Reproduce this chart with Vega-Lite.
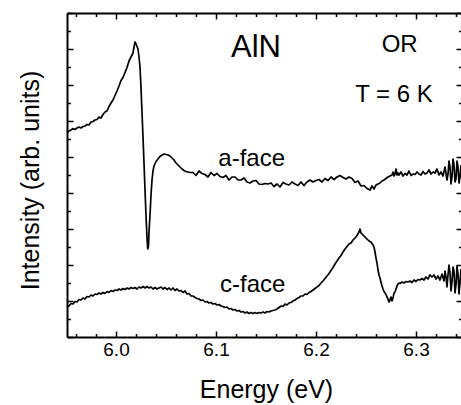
{
"$schema":"https://vega.github.io/schema/vega-lite/v6.json",
"width":395,"height":324,
"autosize":{"type":"none"},
"padding":{"left":67,"top":13,"right":0,"bottom":68},
"background":"white",
"config":{"view":{"stroke":null},"font":"Liberation Sans",
"axis":{"grid":false,"domainColor":"black","domainWidth":2,"tickColor":"black","tickWidth":1.5,"labelFont":"Liberation Sans","labelColor":"black","labelFontSize":19,"titleFont":"Liberation Sans","titleFontSize":25,"titleFontWeight":"normal","titleColor":"black"}},
"datasets":{
"aface":[{"E":5.951,"I":204.5},{"E":5.953,"I":206},{"E":5.955,"I":207},{"E":5.957,"I":208.5},{"E":5.959,"I":207.5},{"E":5.961,"I":209},{"E":5.963,"I":210},{"E":5.965,"I":209},{"E":5.967,"I":210.5},{"E":5.969,"I":211},{"E":5.971,"I":212.5},{"E":5.973,"I":212},{"E":5.975,"I":215},{"E":5.977,"I":215.5},{"E":5.979,"I":217},{"E":5.981,"I":217.5},{"E":5.983,"I":220},{"E":5.985,"I":219},{"E":5.987,"I":222.5},{"E":5.989,"I":225},{"E":5.991,"I":226},{"E":5.993,"I":230.5},{"E":5.995,"I":234},{"E":5.997,"I":237},{"E":5.999,"I":241.5},{"E":6.001,"I":246},{"E":6.003,"I":251},{"E":6.005,"I":256.5},{"E":6.007,"I":259.5},{"E":6.009,"I":264.5},{"E":6.011,"I":269.5},{"E":6.013,"I":276},{"E":6.015,"I":280},{"E":6.017,"I":284},{"E":6.018,"I":290},{"E":6.019,"I":295},{"E":6.020,"I":293},{"E":6.021,"I":290.5},{"E":6.022,"I":288},{"E":6.023,"I":280},{"E":6.024,"I":270},{"E":6.025,"I":249},{"E":6.026,"I":225},{"E":6.027,"I":200},{"E":6.028,"I":174},{"E":6.029,"I":147},{"E":6.030,"I":122},{"E":6.031,"I":99},{"E":6.0317,"I":88},{"E":6.0325,"I":91},{"E":6.033,"I":105},{"E":6.034,"I":122},{"E":6.035,"I":142},{"E":6.036,"I":157},{"E":6.037,"I":166},{"E":6.038,"I":171},{"E":6.040,"I":175.5},{"E":6.042,"I":178},{"E":6.044,"I":180.5},{"E":6.046,"I":182},{"E":6.048,"I":183},{"E":6.050,"I":182.5},{"E":6.052,"I":182},{"E":6.054,"I":181},{"E":6.056,"I":179},{"E":6.058,"I":177},{"E":6.060,"I":174},{"E":6.062,"I":172},{"E":6.064,"I":170},{"E":6.066,"I":168},{"E":6.068,"I":166.5},{"E":6.070,"I":165.5},{"E":6.072,"I":165},{"E":6.074,"I":164.5},{"E":6.077,"I":164.5},{"E":6.080,"I":161.5},{"E":6.083,"I":166},{"E":6.086,"I":163.5},{"E":6.089,"I":162.5},{"E":6.092,"I":160},{"E":6.095,"I":164.5},{"E":6.098,"I":161.5},{"E":6.101,"I":163.5},{"E":6.104,"I":160.5},{"E":6.107,"I":159.5},{"E":6.110,"I":161.5},{"E":6.113,"I":157},{"E":6.116,"I":160},{"E":6.119,"I":160},{"E":6.122,"I":157},{"E":6.125,"I":157},{"E":6.128,"I":159},{"E":6.131,"I":155},{"E":6.134,"I":154},{"E":6.137,"I":156},{"E":6.140,"I":156.5},{"E":6.143,"I":153},{"E":6.146,"I":152.5},{"E":6.149,"I":153.5},{"E":6.152,"I":153},{"E":6.155,"I":154},{"E":6.158,"I":150.5},{"E":6.161,"I":153},{"E":6.164,"I":150},{"E":6.167,"I":154.5},{"E":6.170,"I":153},{"E":6.173,"I":152},{"E":6.176,"I":155},{"E":6.179,"I":153},{"E":6.182,"I":151.5},{"E":6.185,"I":155},{"E":6.188,"I":151.5},{"E":6.191,"I":155},{"E":6.194,"I":157},{"E":6.197,"I":155},{"E":6.200,"I":156.5},{"E":6.203,"I":157.5},{"E":6.206,"I":155},{"E":6.209,"I":158.5},{"E":6.212,"I":156.5},{"E":6.215,"I":160},{"E":6.218,"I":157.5},{"E":6.221,"I":160},{"E":6.224,"I":161.5},{"E":6.227,"I":159.5},{"E":6.230,"I":158},{"E":6.233,"I":160},{"E":6.236,"I":158.5},{"E":6.239,"I":154.5},{"E":6.242,"I":156},{"E":6.245,"I":151},{"E":6.248,"I":151.5},{"E":6.251,"I":148.5},{"E":6.254,"I":147},{"E":6.256,"I":151},{"E":6.258,"I":148},{"E":6.260,"I":152},{"E":6.262,"I":153},{"E":6.264,"I":154},{"E":6.266,"I":156},{"E":6.268,"I":157},{"E":6.270,"I":158.5},{"E":6.272,"I":160},{"E":6.274,"I":161},{"E":6.276,"I":162},{"E":6.277,"I":165},{"E":6.278,"I":161},{"E":6.279,"I":163},{"E":6.280,"I":168},{"E":6.281,"I":162},{"E":6.282,"I":164},{"E":6.283,"I":162},{"E":6.285,"I":165},{"E":6.287,"I":161},{"E":6.289,"I":163.5},{"E":6.291,"I":162},{"E":6.293,"I":166},{"E":6.295,"I":161.5},{"E":6.297,"I":163},{"E":6.299,"I":162.5},{"E":6.301,"I":165},{"E":6.303,"I":163},{"E":6.305,"I":162},{"E":6.307,"I":165.5},{"E":6.309,"I":163},{"E":6.311,"I":164},{"E":6.313,"I":167},{"E":6.315,"I":163},{"E":6.317,"I":165},{"E":6.319,"I":164},{"E":6.321,"I":168},{"E":6.323,"I":162},{"E":6.325,"I":165},{"E":6.327,"I":161},{"E":6.329,"I":170},{"E":6.331,"I":157},{"E":6.332,"I":163},{"E":6.333,"I":176},{"E":6.334,"I":170},{"E":6.335,"I":153},{"E":6.336,"I":160},{"E":6.337,"I":178},{"E":6.338,"I":172},{"E":6.339,"I":155},{"E":6.340,"I":158},{"E":6.341,"I":176},{"E":6.342,"I":170},{"E":6.343,"I":154},{"E":6.344,"I":160},{"E":6.345,"I":172}],
"cface":[{"E":5.951,"I":30},{"E":5.953,"I":31},{"E":5.955,"I":33.5},{"E":5.957,"I":33},{"E":5.959,"I":35.5},{"E":5.961,"I":35},{"E":5.963,"I":37.5},{"E":5.965,"I":37},{"E":5.967,"I":39},{"E":5.969,"I":38},{"E":5.971,"I":40.5},{"E":5.973,"I":40},{"E":5.975,"I":42},{"E":5.977,"I":41},{"E":5.979,"I":43},{"E":5.981,"I":42.5},{"E":5.983,"I":44},{"E":5.985,"I":43},{"E":5.987,"I":44.5},{"E":5.989,"I":43.5},{"E":5.991,"I":45.5},{"E":5.993,"I":44.5},{"E":5.995,"I":46.5},{"E":5.997,"I":45.5},{"E":5.999,"I":47},{"E":6.001,"I":46.5},{"E":6.003,"I":48},{"E":6.005,"I":47},{"E":6.007,"I":48.5},{"E":6.009,"I":47.5},{"E":6.011,"I":49},{"E":6.013,"I":48},{"E":6.015,"I":49.5},{"E":6.017,"I":48.5},{"E":6.019,"I":49.5},{"E":6.021,"I":48},{"E":6.023,"I":50},{"E":6.025,"I":49},{"E":6.027,"I":50.5},{"E":6.029,"I":49},{"E":6.031,"I":50.5},{"E":6.033,"I":49},{"E":6.035,"I":50},{"E":6.037,"I":48},{"E":6.039,"I":49.5},{"E":6.041,"I":48},{"E":6.043,"I":49},{"E":6.045,"I":50},{"E":6.047,"I":48},{"E":6.049,"I":49.5},{"E":6.051,"I":47.5},{"E":6.053,"I":49},{"E":6.055,"I":47},{"E":6.057,"I":49},{"E":6.059,"I":46.5},{"E":6.061,"I":48},{"E":6.063,"I":46},{"E":6.065,"I":46.5},{"E":6.067,"I":44.5},{"E":6.069,"I":46},{"E":6.071,"I":43},{"E":6.073,"I":43.5},{"E":6.075,"I":41},{"E":6.077,"I":41},{"E":6.079,"I":39.5},{"E":6.081,"I":38.5},{"E":6.083,"I":38},{"E":6.085,"I":36.5},{"E":6.087,"I":37},{"E":6.089,"I":35},{"E":6.091,"I":35.5},{"E":6.093,"I":34},{"E":6.095,"I":34.5},{"E":6.097,"I":33},{"E":6.099,"I":33.5},{"E":6.101,"I":32},{"E":6.103,"I":32.5},{"E":6.105,"I":31},{"E":6.107,"I":30.5},{"E":6.109,"I":29.5},{"E":6.111,"I":30},{"E":6.113,"I":28},{"E":6.115,"I":28.5},{"E":6.117,"I":27},{"E":6.119,"I":27.5},{"E":6.121,"I":26},{"E":6.123,"I":26.5},{"E":6.125,"I":25},{"E":6.127,"I":25.5},{"E":6.129,"I":24},{"E":6.131,"I":25},{"E":6.133,"I":23.5},{"E":6.135,"I":24.5},{"E":6.137,"I":23.5},{"E":6.139,"I":24.5},{"E":6.141,"I":23.5},{"E":6.143,"I":24.5},{"E":6.145,"I":24},{"E":6.147,"I":25},{"E":6.149,"I":24},{"E":6.151,"I":25.5},{"E":6.153,"I":25},{"E":6.155,"I":26},{"E":6.157,"I":26.5},{"E":6.159,"I":27},{"E":6.161,"I":28},{"E":6.163,"I":29.5},{"E":6.165,"I":31},{"E":6.167,"I":30.5},{"E":6.169,"I":33},{"E":6.171,"I":32},{"E":6.173,"I":34},{"E":6.175,"I":34.5},{"E":6.177,"I":36},{"E":6.179,"I":37},{"E":6.181,"I":38.5},{"E":6.183,"I":39.5},{"E":6.185,"I":41},{"E":6.187,"I":41},{"E":6.189,"I":43},{"E":6.191,"I":42.5},{"E":6.193,"I":44.5},{"E":6.195,"I":45.5},{"E":6.197,"I":47},{"E":6.199,"I":48.5},{"E":6.201,"I":50},{"E":6.203,"I":51.5},{"E":6.205,"I":54},{"E":6.207,"I":56},{"E":6.209,"I":58.5},{"E":6.211,"I":61},{"E":6.213,"I":63.5},{"E":6.215,"I":66.5},{"E":6.217,"I":69.5},{"E":6.219,"I":73},{"E":6.221,"I":76},{"E":6.223,"I":79},{"E":6.225,"I":81.5},{"E":6.227,"I":85},{"E":6.229,"I":88},{"E":6.231,"I":90.5},{"E":6.233,"I":93},{"E":6.235,"I":94},{"E":6.237,"I":97},{"E":6.239,"I":99},{"E":6.241,"I":101.5},{"E":6.243,"I":105},{"E":6.244,"I":108},{"E":6.245,"I":104},{"E":6.247,"I":102},{"E":6.249,"I":100},{"E":6.251,"I":98},{"E":6.253,"I":96},{"E":6.255,"I":95},{"E":6.257,"I":92},{"E":6.258,"I":90},{"E":6.259,"I":85},{"E":6.260,"I":79},{"E":6.261,"I":74},{"E":6.262,"I":67},{"E":6.263,"I":62},{"E":6.264,"I":59},{"E":6.265,"I":55},{"E":6.266,"I":51},{"E":6.267,"I":48},{"E":6.268,"I":45.5},{"E":6.269,"I":44},{"E":6.270,"I":42.5},{"E":6.271,"I":40},{"E":6.272,"I":38},{"E":6.273,"I":35},{"E":6.274,"I":37},{"E":6.275,"I":40},{"E":6.276,"I":36},{"E":6.277,"I":39},{"E":6.278,"I":44},{"E":6.279,"I":45},{"E":6.280,"I":48},{"E":6.281,"I":51},{"E":6.282,"I":53},{"E":6.283,"I":54},{"E":6.284,"I":53.5},{"E":6.286,"I":55},{"E":6.288,"I":54},{"E":6.290,"I":55.5},{"E":6.292,"I":55},{"E":6.294,"I":56},{"E":6.296,"I":54.5},{"E":6.298,"I":57},{"E":6.300,"I":55.5},{"E":6.302,"I":57.5},{"E":6.304,"I":57},{"E":6.306,"I":58.5},{"E":6.308,"I":57},{"E":6.310,"I":60},{"E":6.312,"I":58},{"E":6.314,"I":62},{"E":6.316,"I":60},{"E":6.318,"I":62},{"E":6.320,"I":58},{"E":6.322,"I":61},{"E":6.324,"I":57},{"E":6.326,"I":63},{"E":6.328,"I":56},{"E":6.329,"I":66},{"E":6.330,"I":60},{"E":6.331,"I":50},{"E":6.332,"I":62},{"E":6.333,"I":72},{"E":6.334,"I":64},{"E":6.335,"I":46},{"E":6.336,"I":55},{"E":6.337,"I":70},{"E":6.338,"I":66},{"E":6.339,"I":44},{"E":6.340,"I":52},{"E":6.341,"I":71},{"E":6.342,"I":63},{"E":6.343,"I":43},{"E":6.344,"I":55},{"E":6.345,"I":68}],
"notes":[{"label":"AlN","E":6.14,"I":280.3,"kind":"big"},{"label":"OR","E":6.2837,"I":285.3,"kind":"small"},{"label":"T = 6 K","E":6.278,"I":235.3,"kind":"small"},{"label":"a-face","E":6.1357,"I":171.3,"kind":"small"},{"label":"c-face","E":6.1367,"I":45.3,"kind":"small"}]
},
"layer":[
{"data":{"name":"aface"},
 "mark":{"type":"line","color":"black","strokeWidth":1.7,"strokeJoin":"round"},
 "encoding":{
  "x":{"field":"E","type":"quantitative","scale":{"domain":[5.951,6.346],"nice":false,"zero":false},
   "axis":{"orient":"bottom","values":[5.96,5.98,6.0,6.02,6.04,6.06,6.08,6.1,6.12,6.14,6.16,6.18,6.2,6.22,6.24,6.26,6.28,6.3,6.32,6.34],
    "tickSize":{"condition":{"test":"abs(datum.value*10-round(datum.value*10))<0.001","value":-6},"value":-3.5},
    "labelExpr":"abs(datum.value*10-round(datum.value*10))<0.001 ? format(datum.value,'.1f') : ''",
    "labelPadding":9,"labelBaseline":"top","labelFlush":false,
    "title":"Energy (eV)","titleBaseline":"alphabetic","titleAlign":"center","titleY":60,"titleX":199}},
  "y":{"field":"I","type":"quantitative","scale":{"domain":[0,324],"nice":false,"zero":false},
   "axis":{"orient":"left","values":[0,18,36,54,72,90,108,126,144,162,180,198,216,234,252,270,288,306,324],
    "tickSize":{"condition":{"test":"datum.value % 36 == 0","value":-6},"value":-3.5},
    "labels":false,"title":"Intensity (arb. units)","titleAngle":-90,"titleAlign":"center","titleBaseline":"alphabetic","titleX":-29,"titleY":167}}
 }},
{"data":{"name":"cface"},
 "mark":{"type":"line","color":"black","strokeWidth":1.7,"strokeJoin":"round"},
 "encoding":{
  "x":{"field":"E","type":"quantitative",
   "axis":{"orient":"top","values":[5.96,5.98,6.0,6.02,6.04,6.06,6.08,6.1,6.12,6.14,6.16,6.18,6.2,6.22,6.24,6.26,6.28,6.3,6.32,6.34],
    "tickSize":{"condition":{"test":"abs(datum.value*10-round(datum.value*10))<0.001","value":-6},"value":-3.5},
    "labels":false,"title":null}},
  "y":{"field":"I","type":"quantitative",
   "axis":{"orient":"right","values":[0,18,36,54,72,90,108,126,144,162,180,198,216,234,252,270,288,306,324],
    "tickSize":{"condition":{"test":"datum.value % 36 == 0","value":-6},"value":-3.5},
    "labels":false,"title":null}}
 }},
{"data":{"name":"notes"},
 "mark":{"type":"text","font":"Liberation Sans","align":"center","baseline":"alphabetic","color":"black"},
 "encoding":{"x":{"field":"E","type":"quantitative","axis":null},"y":{"field":"I","type":"quantitative","axis":null},
  "text":{"field":"label"},
  "size":{"field":"kind","type":"nominal","scale":{"domain":["big","small"],"range":[31,24]},"legend":null}}}
],
"resolve":{"axis":{"x":"independent","y":"independent"}}
}
